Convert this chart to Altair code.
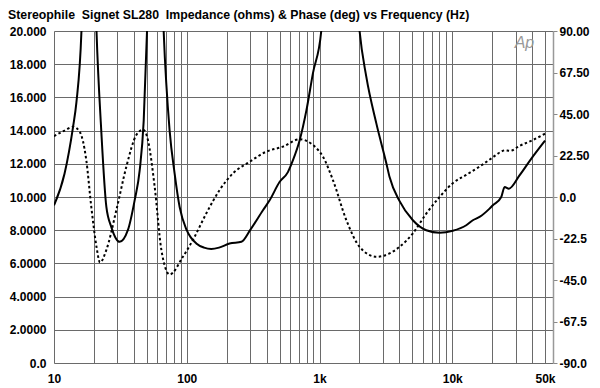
import altair as alt
import pandas as pd

# ---------------- data ----------------
imp_freq = [10, 12.0, 13.9, 14.75, 16.1, 18.3, 20.9, 22.7, 24.8, 27.0, 31.2, 36.0,
            40.5, 44.2, 47.4, 50.2, 57.5, 67.0, 74.3, 81.1, 88.4, 100, 118, 135,
            153, 175, 210, 258, 300, 375, 421, 500, 578, 630, 708, 796, 892, 1031,
            1420, 2004, 2251, 2677, 3184, 3372, 4011, 5050, 6372, 8025, 10100,
            12750, 14290, 16060, 19100, 20220, 23400, 24800, 26700, 32100, 39300,
            50000]
imp_ohm = [9.5, 11.4, 14.2, 15.7, 20, 40, 20, 14.0, 9.4, 8.2, 7.3, 8.0,
           9.8, 11.6, 14.6, 20, 40, 20, 14.0, 11.4, 9.4, 8.0, 7.2, 6.95,
           6.87, 6.95, 7.2, 7.3, 8.0, 9.2, 9.8, 10.9, 11.5, 12.2, 13.4, 15.2, 17.45, 20,
           45, 20, 17.25, 14.45, 12.05, 11.2, 9.75, 8.6, 8.0, 7.85, 7.97,
           8.3, 8.6, 8.8, 9.3, 9.5, 10.0, 10.6, 10.5, 11.3, 12.3,
           13.4]

ph_freq = [10, 12, 13.9, 15.6, 17.5, 19.1, 20.9, 22.2, 24.8, 29.5, 35.1, 41.7,
           47.0, 51.0, 57.3, 64.4, 74.3, 93.6, 114.7, 140.5, 176.9, 222.7, 297.7,
           397.6, 530, 708, 892, 1061, 1262, 1592, 2004, 2677, 3372, 4011, 5050,
           6372, 8025, 10100, 12750, 16060, 20220, 23400, 24800, 27200, 32100,
           40460, 50000]
ph_deg = [33, 36, 38.1, 35.4, 20.1, -5.4, -27, -35.5, -28.7, -7.1, 16.5, 33.6,
          36.5, 30.9, 5.7, -28.7, -42, -32.4, -21.5, -8.8, 3.8, 12.8, 19.1,
          24.6, 27.3, 31.3, 28.2, 21.9, 9.2, -12.5, -27, -32.4, -30.6, -27, -19.7,
          -9, 0, 7.5, 12, 16.5, 21.5, 24.6, 25.3, 25.0, 27.7,
          30.9, 34.3]

grid_freqs = [10, 20, 30, 40, 50, 60, 70, 80, 90,
              100, 200, 300, 400, 500, 600, 700, 800, 900,
              1000, 2000, 3000, 4000, 5000, 6000, 7000, 8000, 9000,
              10000, 20000, 30000, 40000, 50000]
ohm_ticks = [0, 2, 4, 6, 8, 10, 12, 14, 16, 18, 20]
phase_ticks = [-90, -67.5, -45, -22.5, 0, 22.5, 45, 67.5, 90]

title_text = "Stereophile\u00a0 Signet SL280\u00a0 Impedance (ohms) & Phase (deg) vs Frequency (Hz)"
logo_text = ["Ap"]
logo_freq = [35000]
logo_ohm = [19.25]

# ---------------- chart ----------------
FONT = "Liberation Sans"
GRID = "#6a6a6a"

imp_df = pd.DataFrame({"freq": imp_freq, "ohm": imp_ohm})
ph_df = pd.DataFrame({"freq": ph_freq, "deg": ph_deg})
logo_df = pd.DataFrame({"freq": logo_freq, "ohm": logo_ohm, "t": logo_text})

x_scale = alt.Scale(type="log", domain=[10, 57400], nice=False)
y_imp_scale = alt.Scale(domain=[0, 20], nice=False, zero=False)
y_ph_scale = alt.Scale(domain=[-90, 90], nice=False, zero=False)

x_axis = alt.Axis(
    values=grid_freqs, grid=True, gridColor=GRID, gridWidth=1, gridOpacity=1,
    ticks=False, domain=False, title=None, labelOverlap=False,
    labelExpr="datum.value == 10 ? '10' : datum.value == 100 ? '100' : "
              "datum.value == 1000 ? '1k' : datum.value == 10000 ? '10k' : "
              "datum.value == 50000 ? '50k' : ''",
    labelFont=FONT, labelFontSize=12, labelFontWeight="bold", labelColor="black",
    labelPadding=10, labelAlign="center", labelBound=False, labelFlush=False,
)

y_left_axis = alt.Axis(
    orient="left", values=ohm_ticks, grid=True, gridColor=GRID, gridWidth=1,
    gridOpacity=1, ticks=False, domain=False, title=None,
    labelExpr="datum.value == 0 ? '0.0' : datum.value >= 10 ? "
              "format(datum.value, '.3f') : format(datum.value, '.4f')",
    labelFont=FONT, labelFontSize=12, labelFontWeight="bold", labelColor="black",
    labelPadding=8, labelOverlap=False,
)

y_right_axis = alt.Axis(
    orient="right", values=phase_ticks, grid=False, ticks=True, tickSize=4,
    tickColor="#888", domain=True, domainColor="#999", domainWidth=1.5, title=None,
    labelExpr="datum.value == 0 ? '0.0' : datum.value > 0 ? "
              "format(datum.value, '.2f') : '-' + format(-datum.value, '.1f')",
    labelFont=FONT, labelFontSize=12, labelFontWeight="bold", labelColor="black",
    labelPadding=2, labelOverlap=False,
)

imp = alt.Chart(imp_df).mark_line(
    color="black", strokeWidth=2, interpolate="monotone", clip=True
).encode(
    x=alt.X("freq:Q", scale=x_scale, axis=x_axis),
    y=alt.Y("ohm:Q", scale=y_imp_scale, axis=y_left_axis),
)

logo = alt.Chart(logo_df).mark_text(
    font=FONT, fontSize=16, fontStyle="italic", color="#999999", align="center",
    baseline="middle"
).encode(
    x=alt.X("freq:Q", scale=x_scale, axis=x_axis),
    y=alt.Y("ohm:Q", scale=y_imp_scale, axis=y_left_axis),
    text="t:N",
)

phase = alt.Chart(ph_df).mark_line(
    color="black", strokeWidth=2, strokeDash=[2.5, 2.5], interpolate="monotone",
    clip=True
).encode(
    x=alt.X("freq:Q", scale=x_scale, axis=x_axis),
    y=alt.Y("deg:Q", scale=y_ph_scale, axis=y_right_axis),
)

left = alt.layer(imp, logo)
chart = alt.layer(left, phase).resolve_scale(y="independent").properties(
    width=499,
    height=332,
    title=alt.TitleParams(
        text=title_text, anchor="start", frame="group", dx=-46, offset=4,
        font=FONT, fontSize=12.3, fontWeight="bold", color="black",
    ),
    autosize=alt.AutoSizeParams(type="none"),
    padding={"left": 46, "top": 23, "right": 38, "bottom": 25},
).configure_view(stroke="#888", strokeWidth=1).configure(background="white")

chart.save("out.html", embed_options={"renderer": "svg", "actions": False})
